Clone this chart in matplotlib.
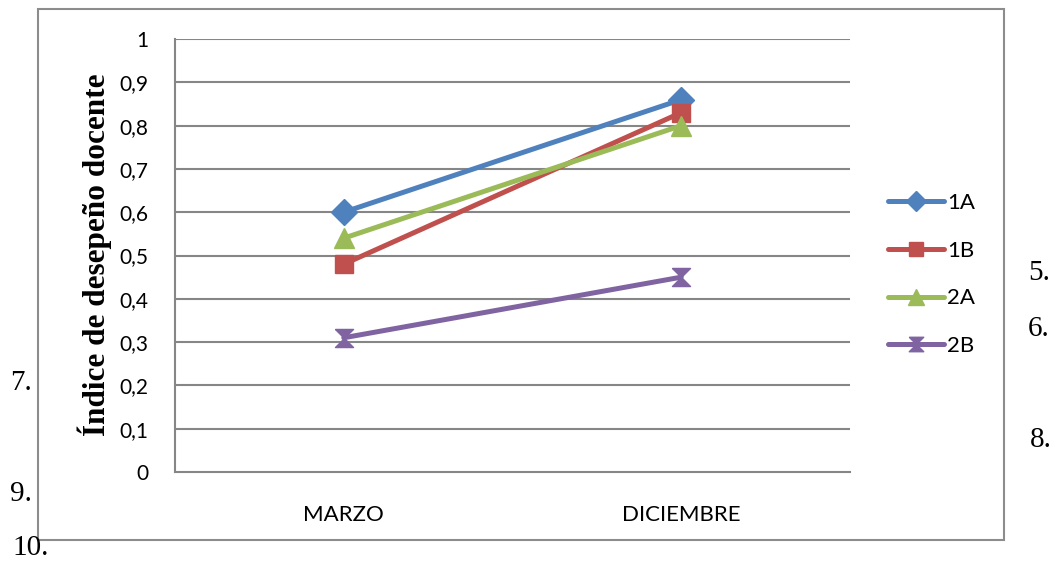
import numpy as np
import matplotlib.pyplot as plt
from matplotlib.patches import Rectangle
from matplotlib.ticker import FuncFormatter

# data
meses = ["MARZO", "DICIEMBRE"]
grupos = ["1A", "1B", "2A", "2B"]
v_1a = [0.60, 0.86]
v_1b = [0.48, 0.83]
v_2a = [0.54, 0.80]
v_2b = [0.31, 0.45]
y_ticks = [0, 0.1, 0.2, 0.3, 0.4, 0.5, 0.6, 0.7, 0.8, 0.9, 1.0]

colores = ["#4F81BD", "#C0504D", "#9BBB59", "#8064A2"]
hourglass = [(-1, 1), (1, 1), (-1, -1), (1, -1), (-1, 1)]
marcadores = [("D", 13), ("s", 13), ("^", 14), (hourglass, 13)]
GRID = "#868686"
CAT_FONT = "Lato"

W, H = 1057, 562
fig = plt.figure(figsize=(W / 100, H / 100), dpi=100)

# outer chart border
fig.patches.append(Rectangle((38 / W, 1 - 540 / H), (1004 - 38) / W, (540 - 9) / H,
                             transform=fig.transFigure, fill=False,
                             edgecolor="#8c8c8c", lw=1.5))

ax = fig.add_axes([175 / W, 1 - 472 / H, (850 - 175) / W, (472 - 39) / H])
x = np.arange(len(meses))
for serie, nombre, c, (m, ms) in zip([v_1a, v_1b, v_2a, v_2b], grupos, colores, marcadores):
    ax.plot(x, serie, color=c, lw=3.6, marker=m, markersize=ms,
            markerfacecolor=c, markeredgecolor=c, label=nombre, zorder=3,
            solid_capstyle="round")

ax.set_xlim(-0.5, 1.5)
ax.set_ylim(0, 1)
ax.set_yticks(y_ticks)
ax.yaxis.set_major_formatter(FuncFormatter(lambda v, p: f"{v:g}".replace(".", ",")))
ax.set_xticks(x)
ax.set_xticklabels(meses)
for lbl in ax.get_xticklabels():
    lbl.set_fontfamily(CAT_FONT)
    lbl.set_fontsize(16)
for lbl in ax.get_yticklabels():
    lbl.set_fontfamily(CAT_FONT)
    lbl.set_fontsize(15)
ax.tick_params(axis="y", length=0, pad=19)
ax.tick_params(axis="x", length=0, pad=24)
for v in y_ticks[1:]:
    ax.axhline(v, color=GRID, lw=1.5, zorder=1)
for s in ["top", "right"]:
    ax.spines[s].set_visible(False)
for s in ["left", "bottom"]:
    ax.spines[s].set_color(GRID)
    ax.spines[s].set_linewidth(1.5)

leg = ax.legend(loc="center left", bbox_to_anchor=(888 / W, 1 - 274.5 / H),
                bbox_transform=fig.transFigure, frameon=False, borderpad=0,
                borderaxespad=0, handlelength=2.5, handletextpad=0.15,
                labelspacing=1.25, markerscale=0.8,
                prop={"family": CAT_FONT, "size": 16})

fig.text(95 / W, 1 - 255 / H, "Índice de desepeño docente", rotation=90,
         ha="center", va="center", fontsize=22.5, fontweight="bold",
         family="Liberation Serif")

# stray numbering from the source document
stray = [("5.", 1028, 273), ("6.", 1028, 329), ("7.", 10, 383),
         ("8.", 1030, 440), ("9.", 10, 494), ("10.", 12, 548)]
for t, px, py in stray:
    fig.text(px / W, 1 - py / H, t, ha="left", va="center", fontsize=21,
             family="Liberation Serif")

fig.savefig("out.png", dpi=100)
